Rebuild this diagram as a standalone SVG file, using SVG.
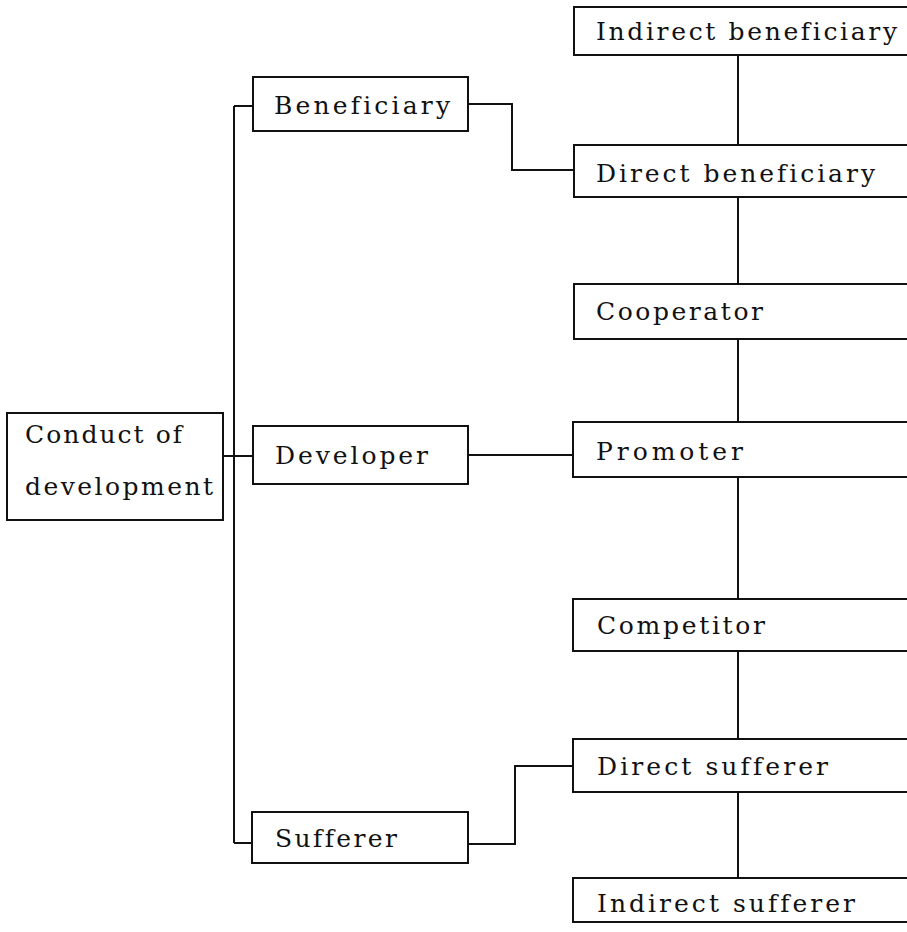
<svg xmlns="http://www.w3.org/2000/svg" width="907" height="932" viewBox="0 0 907 932">
<style>
.box{fill:#fff;stroke:#111;stroke-width:2}
.lbl{font-family:"DejaVu Serif","Liberation Serif",serif;font-size:25px;fill:#111;font-variant-ligatures:none;font-feature-settings:"liga" 0,"clig" 0}
.con{fill:none;stroke:#111;stroke-width:2}
</style>
<rect width="907" height="932" fill="#fff"/>
<g id="connectors">
<path class="con" d="M234,106 V843"/>
<path class="con" d="M234,106 H253"/>
<path class="con" d="M223,456 H253"/>
<path class="con" d="M234,843 H252"/>
<path class="con" d="M468,104 H512 V170 H574"/>
<path class="con" d="M468,455 H573"/>
<path class="con" d="M468,844 H515 V766 H573"/>
<path class="con" d="M738,55 V145 M738,197 V284 M738,339 V422 M738,477 V599 M738,651 V739 M738,792 V878"/>
</g>
<g id="conduct">
<rect class="box" x="7" y="413" width="216" height="107"/>
<text class="lbl" x="25" y="443" textLength="157" lengthAdjust="spacing">Conduct of</text>
<text class="lbl" x="25" y="495" textLength="188" lengthAdjust="spacing">development</text>
</g>
<g id="beneficiary">
<rect class="box" x="253" y="77" width="215" height="54"/>
<text class="lbl" x="274" y="114" textLength="176" lengthAdjust="spacing">Beneficiary</text>
</g>
<g id="developer">
<rect class="box" x="253" y="426" width="215" height="58"/>
<text class="lbl" x="275" y="464" textLength="153" lengthAdjust="spacing">Developer</text>
</g>
<g id="sufferer">
<rect class="box" x="252" y="812" width="216" height="51"/>
<text class="lbl" x="275" y="847" textLength="122" lengthAdjust="spacing">Sufferer</text>
</g>
<g id="indirect-beneficiary">
<rect class="box" x="574" y="7" width="340" height="48"/>
<text class="lbl" x="596" y="40" textLength="301" lengthAdjust="spacing">Indirect beneficiary</text>
</g>
<g id="direct-beneficiary">
<rect class="box" x="574" y="145" width="340" height="52"/>
<text class="lbl" x="596" y="182" textLength="279" lengthAdjust="spacing">Direct beneficiary</text>
</g>
<g id="cooperator">
<rect class="box" x="574" y="284" width="340" height="55"/>
<text class="lbl" x="596" y="320" textLength="167" lengthAdjust="spacing">Cooperator</text>
</g>
<g id="promoter">
<rect class="box" x="573" y="422" width="340" height="55"/>
<text class="lbl" x="596" y="460" textLength="147" lengthAdjust="spacing">Promoter</text>
</g>
<g id="competitor">
<rect class="box" x="573" y="599" width="340" height="52"/>
<text class="lbl" x="597" y="634" textLength="168" lengthAdjust="spacing">Competitor</text>
</g>
<g id="direct-sufferer">
<rect class="box" x="573" y="739" width="340" height="53"/>
<text class="lbl" x="597" y="775" textLength="231" lengthAdjust="spacing">Direct sufferer</text>
</g>
<g id="indirect-sufferer">
<rect class="box" x="573" y="878" width="340" height="44"/>
<text class="lbl" x="597" y="912" textLength="258" lengthAdjust="spacing">Indirect sufferer</text>
</g>
</svg>
